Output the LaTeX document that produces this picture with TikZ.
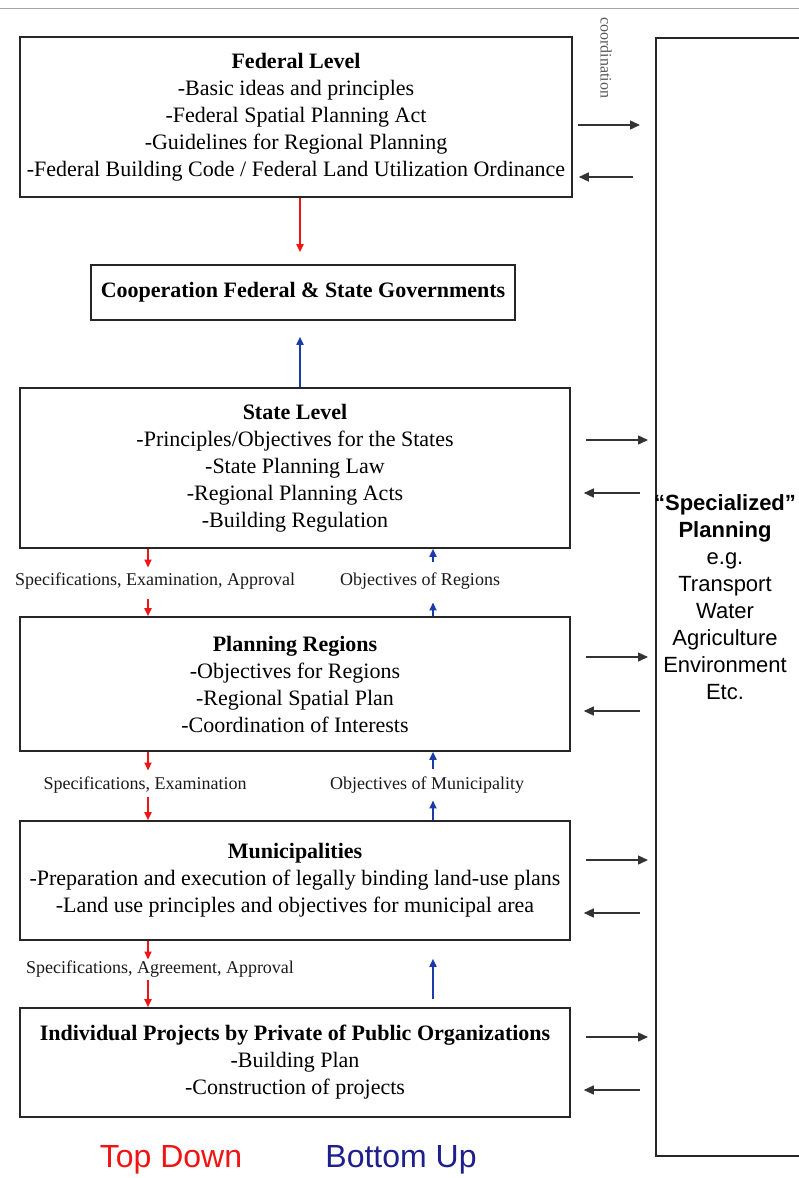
\documentclass[tikz,border=0pt]{standalone}
\usepackage{fontspec}
\setmainfont{Liberation Serif}
\newfontfamily\arialf{Liberation Sans}
\usetikzlibrary{arrows.meta,calc}
\definecolor{tdred}{RGB}{240,20,20}
\definecolor{bublue}{RGB}{25,60,170}
\definecolor{navyt}{RGB}{30,30,140}
\tikzset{
  box/.style={draw=black!85, line width=1.6pt, align=center, inner sep=0pt,
    font=\fontsize{22}{27}\selectfont},
  side/.style={-{Triangle[length=10pt,width=9pt]}, line width=1.4pt, draw=black!80},
  tdarr/.style={-{Triangle[length=8pt,width=7pt]}, line width=1.7pt, draw=tdred},
  buarr/.style={-{Triangle[length=8pt,width=7pt]}, line width=1.7pt, draw=bublue},
  lbl/.style={font=\fontsize{18}{20}\selectfont, inner sep=0pt, text=black!90},
}
\begin{document}
\begin{tikzpicture}[x=1pt,y=-1pt]
\useasboundingbox (0,0) rectangle (799,1178);
\draw[black!35, line width=1pt] (0,8) -- (799,8);

\node[box, minimum width=552pt, minimum height=160pt] (fed) at (296,117)
  {\textbf{Federal Level}\\-Basic ideas and principles\\-Federal Spatial Planning Act\\-Guidelines for Regional Planning\\-Federal Building Code / Federal Land Utilization Ordinance};
\node[box, minimum width=424pt, minimum height=55pt] (coop) at (303,292.5)
  {\textbf{Cooperation Federal \& State Governments}};
\node[box, minimum width=550pt, minimum height=160pt] (state) at (295,468)
  {\textbf{State Level}\\-Principles/Objectives for the States\\-State Planning Law\\-Regional Planning Acts\\-Building Regulation};
\node[box, minimum width=550pt, minimum height=134pt] (reg) at (295,684)
  {\textbf{Planning Regions}\\-Objectives for Regions\\-Regional Spatial Plan\\-Coordination of Interests};
\node[box, minimum width=550pt, minimum height=119pt] (mun) at (295,880.5)
  {\textbf{Municipalities}\\-Preparation and execution of legally binding land-use plans\\-Land use principles and objectives for municipal area};
\node[box, minimum width=550pt, minimum height=109pt] (ind) at (295,1062.5)
  {\textbf{Individual Projects by Private of Public Organizations}\\-Building Plan\\-Construction of projects};

\node[draw=black!85, line width=1.6pt, minimum width=170pt, minimum height=1118pt,
  anchor=north west, inner sep=0pt] (spec) at (655,37) {};
\node[font=\arialf\fontsize{22}{27}\selectfont, align=center, inner sep=0pt] (spectxt) at (725,597)
  {\textbf{“Specialized”}\\\textbf{Planning}\\e.g.\\Transport\\Water\\Agriculture\\Environment\\Etc.};

\node[rotate=-90, font=\fontsize{16}{17}\selectfont, text=black!65, inner sep=0pt] (coord) at (606,58) {coordination};

\node[lbl] (l1) at (155,581) {Specifications, Examination, Approval};
\node[lbl] (l2) at (420,581) {Objectives of Regions};
\node[lbl] (l3) at (145,785) {Specifications, Examination};
\node[lbl] (l4) at (427,785) {Objectives of Municipality};
\node[lbl] (l5) at (160,969) {Specifications, Agreement, Approval};

\node[font=\arialf\fontsize{32}{34}\selectfont, text=tdred, inner sep=0pt] (td) at (171,1160) {Top Down};
\node[font=\arialf\fontsize{32}{34}\selectfont, text=navyt, inner sep=0pt] (bu) at (401,1160) {Bottom Up};

\coordinate (cx) at (300,0);
\coordinate (tdx) at (148,0);
\coordinate (bux) at (433,0);

% federal / state cooperation
\draw[tdarr, shorten >=12pt] (fed.south -| cx) -- (coop.north -| cx);
\draw[buarr, shorten >=16pt] (state.north -| cx) -- (coop.south -| cx);

% state <-> regions
\draw[tdarr, shorten >=5pt] (state.south -| tdx) -- (l1.north -| tdx);
\draw[tdarr, shorten <=10pt] (l1.south -| tdx) -- (reg.north -| tdx);
\draw[buarr, shorten >=13pt] (reg.north -| bux) -- (l2.south -| bux);
\draw[buarr, shorten <=11pt] (l2.north -| bux) -- (state.south -| bux);

% regions <-> municipalities
\draw[tdarr, shorten >=6pt] (reg.south -| tdx) -- (l3.north -| tdx);
\draw[tdarr, shorten <=4pt] (l3.south -| tdx) -- (mun.north -| tdx);
\draw[buarr, shorten >=7pt] (mun.north -| bux) -- (l4.south -| bux);
\draw[buarr, shorten <=8pt] (l4.north -| bux) -- (reg.south -| bux);

% municipalities <-> projects
\draw[tdarr, shorten >=1pt] (mun.south -| tdx) -- (l5.north -| tdx);
\draw[tdarr, shorten <=3pt] (l5.south -| tdx) -- (ind.north -| tdx);
\draw[buarr, shorten <=8pt, shorten >=18pt] (ind.north -| bux) -- (mun.south -| bux);

% coordination arrows with specialized planning
\foreach \n/\a/\b/\sa/\ea/\sb/\eb in {
  fed/8/60/5/15/22/6,
  state/-28/25/15/7/15/13,
  reg/-27/27/15/7/15/13,
  mun/-20.5/32.5/15/7/15/13,
  ind/-25.5/27.5/15/7/15/13}{
  \coordinate (\n-o) at ($(\n.east)+(0,\a)$);
  \coordinate (\n-i) at ($(\n.east)+(0,\b)$);
  \draw[side, shorten <=\sa pt, shorten >=\ea pt] (\n-o) -- (\n-o -| spec.west);
  \draw[side, shorten <=\sb pt, shorten >=\eb pt] (\n-i -| spec.west) -- (\n-i);
}
\end{tikzpicture}
\end{document}
